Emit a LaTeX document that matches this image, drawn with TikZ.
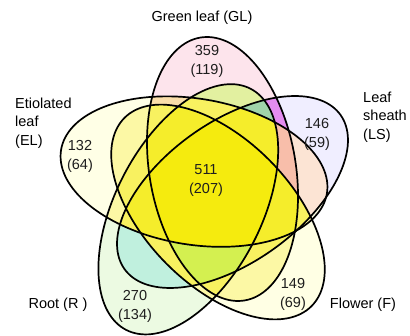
\documentclass[tikz,border=0pt]{standalone}
\usepackage{fontspec}
\setmainfont{Liberation Sans}
\definecolor{cEL}{RGB}{255,255,230}
\definecolor{cGL}{RGB}{253,228,236}
\definecolor{cLS}{RGB}{240,238,255}
\definecolor{cR}{RGB}{236,250,226}
\definecolor{cF}{RGB}{255,255,228}
\definecolor{cream}{RGB}{255,253,215}
\definecolor{ovy}{RGB}{245,235,0}
\definecolor{magen}{RGB}{228,140,240}
\definecolor{teal2}{RGB}{160,212,170}
\definecolor{palegr}{RGB}{226,240,160}
\definecolor{lorange}{RGB}{250,222,170}
\definecolor{cyan2}{RGB}{192,240,222}
\definecolor{salmon2}{RGB}{248,190,170}
\definecolor{peach}{RGB}{252,228,212}
\definecolor{ygreen}{RGB}{212,240,80}
\definecolor{numc}{RGB}{30,30,30}
\begin{document}
\begin{tikzpicture}[x=1pt,y=-1pt,
  ell/.style n args={5}{insert path={plot[domain=0:360,samples=145,variable=\t] ({#1+#3*cos(\t)*cos(#5)-#4*sin(\t)*sin(#5)},{#2+#3*cos(\t)*sin(#5)+#4*sin(\t)*cos(#5)}) -- cycle}},
  nell/.style n args={5}{insert path={(-60,-60) rectangle (470,400) plot[domain=0:360,samples=145,variable=\t] ({#1+#3*cos(\t)*cos(#5)-#4*sin(\t)*sin(#5)},{#2+#3*cos(\t)*sin(#5)+#4*sin(\t)*cos(#5)}) -- cycle}},
  eGL/.style={ell={222.5}{169}{133.3}{73.2}{-99.6}},
  eEL/.style={ell={194.0}{171.6}{134.7}{73}{-170.7}},
  eR/.style={ell={188.3}{209.3}{135.7}{73}{-242.7}},
  eF/.style={ell={218.0}{212}{132.7}{73}{-314.7}},
  eLS/.style={ell={232.5}{192}{132.7}{70.3}{-35.5}},
  nGL/.style={nell={222.5}{169}{133.3}{73.2}{-99.6}},
  nEL/.style={nell={194.0}{171.6}{134.7}{73}{-170.7}},
  nR/.style={nell={188.3}{209.3}{135.7}{73}{-242.7}},
  nF/.style={nell={218.0}{212}{132.7}{73}{-314.7}},
  nLS/.style={nell={232.5}{192}{132.7}{70.3}{-35.5}},
  outline/.style={draw=black,line width=1.7pt,line join=round},
  lab/.style={font=\fontsize{14.5}{18.5}\selectfont,text=black,inner sep=0pt},
  num/.style={font=\fontsize{14.5}{19}\selectfont,text=numc,align=center,inner sep=0pt}
]
\useasboundingbox (0,0) rectangle (410,336);
\fill[white] (0,0) rectangle (410,336);
% single tints
\fill[cEL,eEL]; \fill[cGL,eGL]; \fill[cLS,eLS]; \fill[cR,eR]; \fill[cF,eF];
% overlaps: cream base, then yellow by number of pairs
\foreach \a/\b in {eGL/eEL,eGL/eLS,eGL/eR,eGL/eF,eEL/eLS,eEL/eR,eEL/eF,eLS/eR,eLS/eF,eR/eF}{
  \begin{scope}\clip[\a]; \fill[cream,\b]; \end{scope}
}
\foreach \a/\b in {eGL/eEL,eGL/eLS,eGL/eR,eGL/eF,eEL/eLS,eEL/eR,eEL/eF,eLS/eR,eLS/eF,eR/eF}{
  \begin{scope}\clip[\a]; \fill[ovy,fill opacity=0.23,\b]; \end{scope}
}
% special regions
\begin{scope}[even odd rule]\clip[eGL]; \clip[eLS]; \clip[nEL]; \clip[nR]; \clip[nF]; \fill[magen] (0,0) rectangle (410,336); \end{scope}
\begin{scope}[even odd rule]\clip[eGL]; \clip[eLS]; \clip[eR]; \clip[nEL]; \clip[nF]; \fill[teal2] (0,0) rectangle (410,336); \end{scope}
\begin{scope}[even odd rule]\clip[eGL]; \clip[eR]; \clip[nEL]; \clip[nLS]; \clip[nF]; \fill[palegr] (0,0) rectangle (410,336); \end{scope}
\begin{scope}[even odd rule]\clip[eGL]; \clip[eEL]; \clip[nR]; \clip[nLS]; \clip[nF]; \fill[lorange] (0,0) rectangle (410,336); \end{scope}
\begin{scope}[even odd rule]\clip[eLS]; \clip[eR]; \clip[nEL]; \clip[nGL]; \clip[nF]; \fill[cyan2] (0,0) rectangle (410,336); \end{scope}
\begin{scope}[even odd rule]\clip[eGL]; \clip[eLS]; \clip[eEL]; \clip[nR]; \clip[nF]; \fill[salmon2] (0,0) rectangle (410,336); \end{scope}
\begin{scope}[even odd rule]\clip[eEL]; \clip[eLS]; \clip[nGL]; \clip[nR]; \clip[nF]; \fill[peach] (0,0) rectangle (410,336); \end{scope}
\begin{scope}[even odd rule]\clip[eLS]; \clip[eF]; \clip[nGL]; \clip[nR]; \clip[nEL]; \fill[peach] (0,0) rectangle (410,336); \end{scope}
\begin{scope}[even odd rule]\clip[eGL]; \clip[eLS]; \clip[eR]; \clip[eF]; \clip[nEL]; \fill[ygreen] (0,0) rectangle (410,336); \end{scope}
% outlines
\path[outline,eEL]; \path[outline,eGL]; \path[outline,eLS]; \path[outline,eR]; \path[outline,eF];
% labels
\node[lab] (tGL) at (202,18) {Green leaf (GL)};
\node[lab,align=left,anchor=west] (tEL) at (15,123) {Etiolated\\leaf\\(EL)};
\node[lab,align=left,anchor=west] (tLS) at (363,117) {Leaf\\sheath\\(LS)};
\node[lab] (tR) at (58,305) {Root (R )};
\node[lab] (tF) at (363,305) {Flower (F)};
\node[num] (nmGL) at (207,61) {359\\(119)};
\node[num] (nmEL) at (80,156) {132\\(64)};
\node[num] (nmLS) at (317,134) {146\\(59)};
\node[num] (nmC) at (206,181) {511\\(207)};
\node[num] (nmR) at (135,306) {270\\(134)};
\node[num] (nmF) at (293,294) {149\\(69)};
\end{tikzpicture}
\end{document}
